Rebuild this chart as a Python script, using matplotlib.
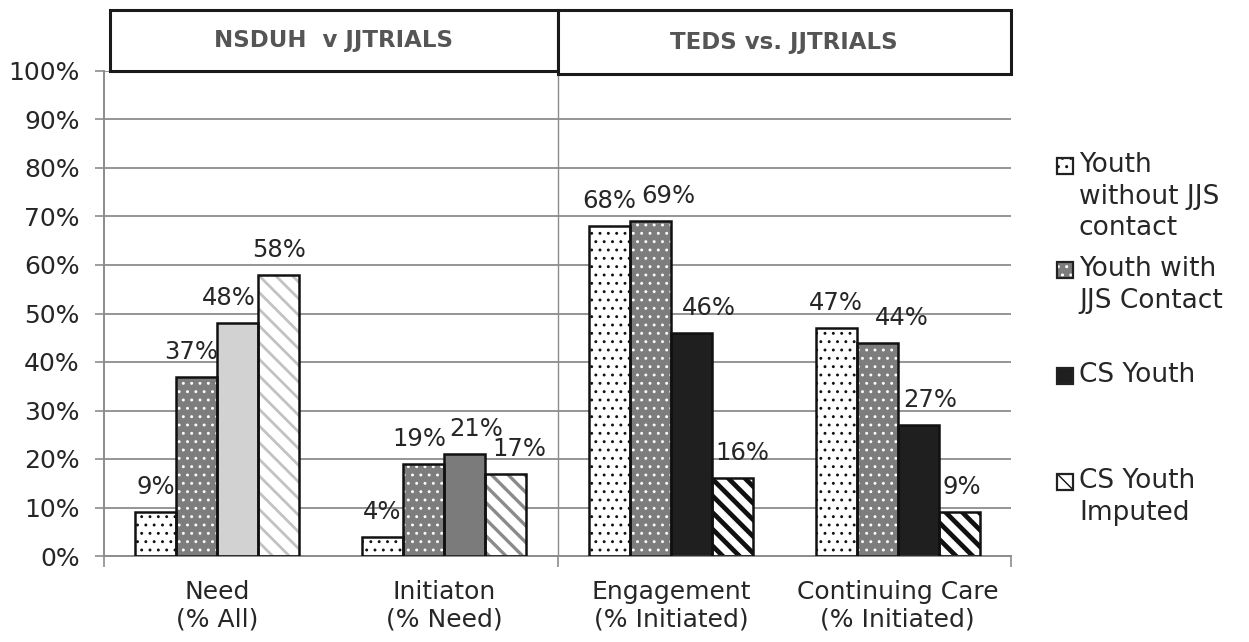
import matplotlib
matplotlib.use('Agg')
import matplotlib.pyplot as plt
from matplotlib.patches import Rectangle
from matplotlib.transforms import blended_transform_factory
import numpy as np

# 数据
categories = ['Need\n(% All)', 'Initiaton\n(% Need)', 'Engagement\n(% Initiated)', 'Continuing Care\n(% Initiated)']
without_jjs = [9, 4, 68, 47]
with_jjs = [37, 19, 69, 44]
cs_youth = [48, 21, 46, 27]
cs_imputed = [58, 17, 16, 9]
series_names = ['Youth\nwithout JJS\ncontact', 'Youth with\nJJS Contact', 'CS Youth', 'CS Youth\nImputed']
section_titles = ['NSDUH  v JJTRIALS', 'TEDS vs. JJTRIALS']
yticks = [0, 10, 20, 30, 40, 50, 60, 70, 80, 90, 100]

# 样式
W, H = 1249, 642
cs_face = ['#d2d2d2', '#7b7b7b', '#1f1f1f', '#1f1f1f']
imp_hcolor = ['#c2c2c2', '#8a8a8a', '#111111', '#111111']
imp_hlw = [2.0, 2.4, 3.4, 3.4]
# 数据标签的水平偏移(像素)
label_dx = [[0, -6, -9, 0], [0, -4, 12, 14], [0, 18, 17, 10], [0, 25, 12, 3]]
txt = '#262626'
gridc = '#8c8c8c'

fig = plt.figure(figsize=(W / 100, H / 100), dpi=100)
ax = fig.add_axes([104 / W, 1 - 556 / H, (1011 - 104) / W, (556 - 71) / H])

bw = 0.181
x = np.arange(len(categories))
offs = [-1.5 * bw, -0.5 * bw, 0.5 * bw, 1.5 * bw]


def draw_bar(xc, h, face, hatch=None, hcolor=None, hlw=1.0):
    with plt.rc_context({'hatch.linewidth': hlw}):
        if hatch:
            ax.bar(xc, h, bw, color=face, edgecolor=hcolor, hatch=hatch, linewidth=0, zorder=2)
        else:
            ax.bar(xc, h, bw, color=face, linewidth=0, zorder=2)
    ax.bar(xc, h, bw, fill=False, edgecolor='#111111', linewidth=1.8, zorder=3)


for i in range(len(categories)):
    draw_bar(x[i] + offs[0], without_jjs[i], 'white', '..', '#111111', 0.9)
    draw_bar(x[i] + offs[1], with_jjs[i], '#7d7d7d', '..', 'white', 0.9)
    draw_bar(x[i] + offs[2], cs_youth[i], cs_face[i])
    draw_bar(x[i] + offs[3], cs_imputed[i], 'white', '\\\\', imp_hcolor[i], imp_hlw[i])
    vals = [without_jjs[i], with_jjs[i], cs_youth[i], cs_imputed[i]]
    for j in range(4):
        ax.annotate('%d%%' % vals[j], (x[i] + offs[j], vals[j]),
                    xytext=(label_dx[i][j] * 0.72, 18), textcoords='offset points',
                    ha='center', va='center', fontsize=17.5, color=txt, zorder=4)

# 坐标轴
ax.set_xlim(-0.5, 3.5)
ax.set_ylim(0, 100)
ax.set_yticks(yticks)
ax.set_yticklabels(['%d%%' % v for v in yticks])
ax.tick_params(axis='y', length=6.5, width=1.2, color=gridc, pad=11, labelsize=18, labelcolor=txt)
ax.set_xticks(x)
ax.set_xticklabels(categories)
ax.tick_params(axis='x', which='major', length=0, pad=17, labelsize=18, labelcolor=txt)
ax.set_xticks([-0.5, 1.5, 3.5], minor=True)
ax.tick_params(axis='x', which='minor', length=8, width=1.2, color=gridc)
ax.yaxis.grid(True, color=gridc, linewidth=1.3, zorder=0)
ax.set_axisbelow(True)
for s in ['top', 'right']:
    ax.spines[s].set_visible(False)
ax.spines['left'].set_color(gridc)
ax.spines['left'].set_linewidth(1.4)
ax.spines['bottom'].set_color(gridc)
ax.spines['bottom'].set_linewidth(1.4)
ax.axvline(1.5, color=gridc, linewidth=1.0, zorder=1)

# 顶部标题框
tr = blended_transform_factory(ax.transData, ax.transAxes)
top = (556 - 10) / (556 - 71)
box_spans = [(-0.5 + 6 / 226.7, 1.5, 1.0), (1.5, 3.5, 1.0 - 3 / 485)]
for (x0, x1, y0), title in zip(box_spans, section_titles):
    ax.add_patch(Rectangle((x0, y0), x1 - x0, top - y0, transform=tr, fill=True, facecolor='white',
                           edgecolor='#1a1a1a', linewidth=2.2, clip_on=False, zorder=5))
    ax.text((x0 + x1) / 2, (y0 + top) / 2, title, transform=tr, ha='center', va='center',
            fontsize=16.5, fontweight='bold', color='#555555', zorder=6)

# 图例
legend_y = [166, 270, 376, 482]
lg_face = ['white', '#7d7d7d', '#1f1f1f', 'white']
lg_hatch = ['..', '..', None, '\\\\']
lg_hcolor = ['#111111', 'white', None, '#111111']
for k in range(4):
    yc = legend_y[k]
    if lg_hatch[k]:
        fig.add_artist(Rectangle((1057 / W, 1 - (yc + 8) / H), 16 / W, 16 / H, transform=fig.transFigure,
                                 facecolor=lg_face[k], edgecolor=lg_hcolor[k], hatch=lg_hatch[k], linewidth=0))
    else:
        fig.add_artist(Rectangle((1057 / W, 1 - (yc + 8) / H), 16 / W, 16 / H, transform=fig.transFigure,
                                 facecolor=lg_face[k], linewidth=0))
    fig.add_artist(Rectangle((1057 / W, 1 - (yc + 8) / H), 16 / W, 16 / H, transform=fig.transFigure,
                             fill=False, edgecolor='#222222', linewidth=1.6))
    fig.text(1079 / W, 1 - (yc - 14) / H, series_names[k], ha='left', va='top', fontsize=19,
             color=txt, linespacing=1.28)

fig.savefig('out.png', dpi=100)
